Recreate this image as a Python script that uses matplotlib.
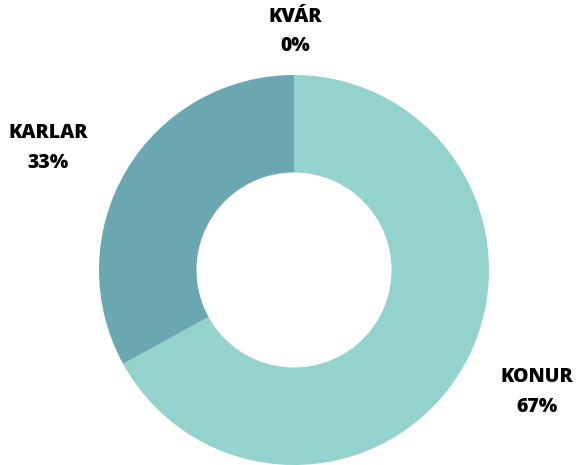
"""
Donut chart: share by gender (KONUR / KARLAR / KVÁR).
"""

import matplotlib
matplotlib.use("Agg")
import matplotlib.pyplot as plt

# data
CATEGORIES = ["KONUR", "KARLAR", "KVÁR"]
SHARES = [67, 33, 0]

# styles / layout
COLORS = ["#94D3CD", "#6BA7B1", "#4F8A94"]
LABEL_POS = [(537, 392), (48, 148), (295, 32)]   # pixel centres (top-left origin)
W, H = 578, 465
CENTER = (294, 270)
RADIUS = 195

plt.rcParams["font.family"] = ["Open Sans", "DejaVu Sans"]

fig = plt.figure(figsize=(W / 100, H / 100), dpi=100)
ax = fig.add_axes([0, 0, 1, 1])

ax.pie(SHARES, colors=COLORS, startangle=90, counterclock=False,
       center=(CENTER[0], H - CENTER[1]), radius=RADIUS,
       wedgeprops={"width": RADIUS * 0.5, "linewidth": 0})

# pie() resets the limits, so set them afterwards
ax.set_xlim(0, W)
ax.set_ylim(0, H)
ax.set_aspect("equal")
ax.axis("off")

for name, val, (px, py) in zip(CATEGORIES, SHARES, LABEL_POS):
    ax.text(px, H - py, f"{name}\n{val}%", ha="center", va="center",
            fontsize=14, fontweight="heavy", color="black", linespacing=1.6)

fig.savefig("out.png", dpi=100)
